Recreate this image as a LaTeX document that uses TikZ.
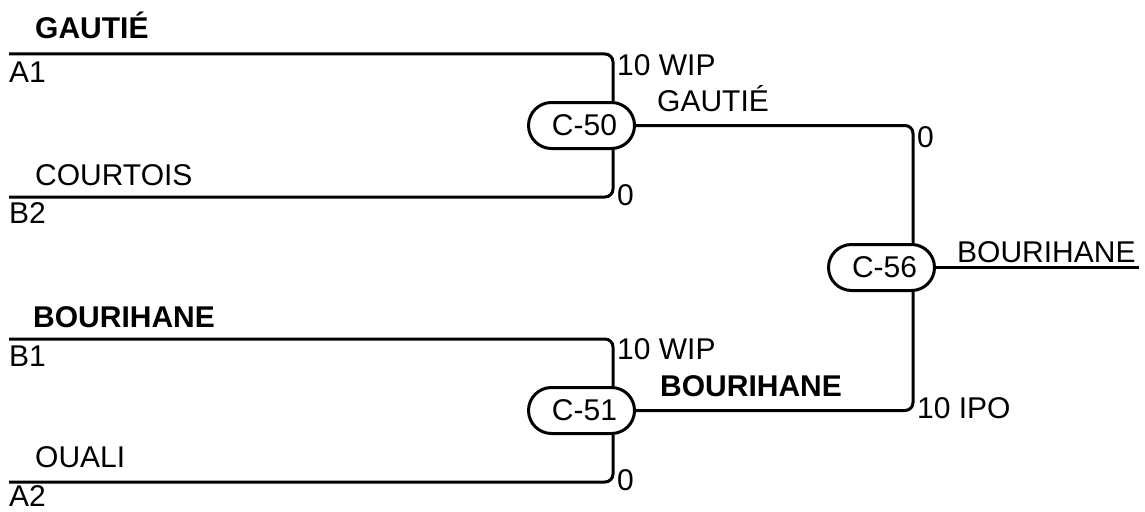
\documentclass[tikz,border=0pt]{standalone}
\usepackage{fontspec}
\setmainfont{Liberation Sans}
\usetikzlibrary{calc}
\begin{document}
\begin{tikzpicture}[x=1pt,y=-1pt,
  wire/.style={line width=3pt,rounded corners=8pt},
  match/.style={draw,line width=3pt,rounded corners=23pt,minimum width=106pt,minimum height=46pt,inner sep=0pt,font=\fontsize{30}{36}\selectfont},
  lbl/.style={anchor=base west,inner sep=0pt,font=\fontsize{30}{36}\selectfont},
  blbl/.style={lbl,font=\fontsize{30}{36}\selectfont\bfseries}]
\useasboundingbox (0,0) rectangle (1145,511);
% match nodes
\node[match] (c50) at (581.5,125.5) {\hspace*{6pt}C-50};
\node[match] (c51) at (581.5,410.5) {\hspace*{6pt}C-51};
\node[match] (c56) at (881.5,267.5) {\hspace*{6pt}C-56};
% free ends
\coordinate (a1) at (9,54);
\coordinate (b2) at (9,197);
\coordinate (b1) at (9,339);
\coordinate (a2) at (9,482);
\coordinate (out) at (1139,267.5);
% wires
\draw[wire] (a1) -| ($(c50.north east)+(-23,0)$);
\draw[wire] (b2) -| ($(c50.south east)+(-23,0)$);
\draw[wire] (b1) -| ($(c51.north east)+(-23,0)$);
\draw[wire] (a2) -| ($(c51.south east)+(-23,0)$);
\draw[wire] (c50.east) -| ($(c56.north east)+(-23,0)$);
\draw[wire] (c51.east) -| ($(c56.south east)+(-23,0)$);
\draw[wire] (c56.east) -- (out);
% labels left
\node[blbl] (lgautie) at (35,38) {GAUTIÉ};
\node[lbl] (la1) at (9,82) {A1};
\node[lbl] (lcourtois) at (35,185) {COURTOIS};
\node[lbl] (lb2) at (9,223) {B2};
\node[blbl] (lbouri) at (33,327) {BOURIHANE};
\node[lbl] (lb1) at (9,366) {B1};
\node[lbl] (louali) at (35,467) {OUALI};
\node[lbl] (la2) at (9,506) {A2};
% labels middle
\node[lbl] (w1) at (617,75) {10 WIP};
\node[lbl] (g1) at (657,111) {GAUTIÉ};
\node[lbl] (z1) at (617,205) {0};
\node[lbl] (w2) at (617,359) {10 WIP};
\node[blbl] (g2) at (660,396) {BOURIHANE};
\node[lbl] (z2) at (617,490) {0};
% labels right
\node[lbl] (z3) at (917,147) {0};
\node[lbl] (ipo) at (917,418) {10 IPO};
\node[lbl] (win) at (957,262) {BOURIHANE};
\end{tikzpicture}
\end{document}
